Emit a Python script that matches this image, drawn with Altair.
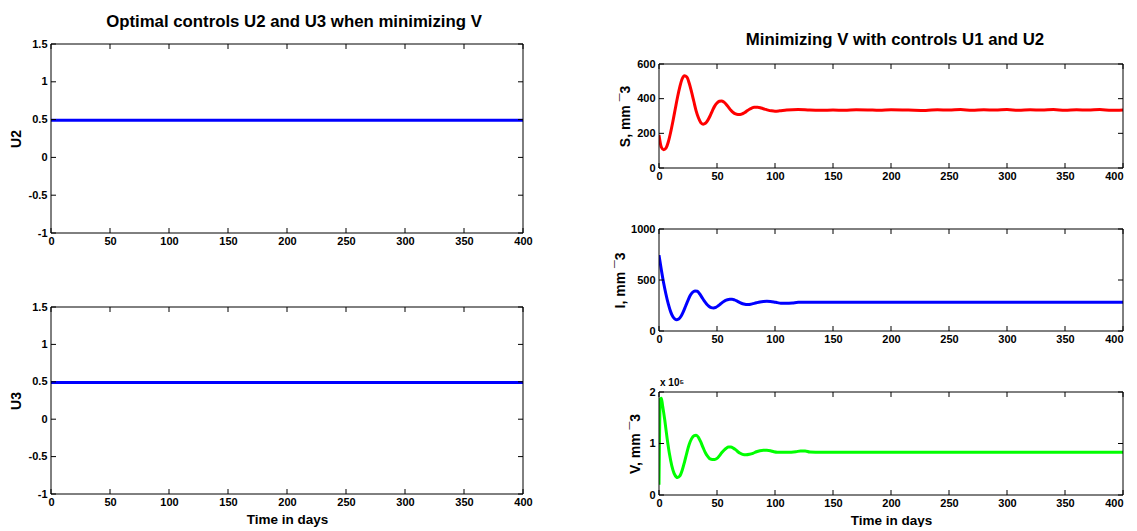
import altair as alt
import pandas as pd

FONT = "Liberation Sans"

# ---- tick values ----
x_ticks = [0, 50, 100, 150, 200, 250, 300, 350, 400]
u_ticks = [-1, -0.5, 0, 0.5, 1, 1.5]
s_ticks = [0, 200, 400, 600]
i_ticks = [0, 500, 1000]
v_ticks = [0, 1, 2]

# ---- controls ----
t_u = [0, 400]
u2 = [0.49, 0.49]
u3 = [0.49, 0.49]

# ---- S (mm^-3) ----
t_s = [0, 2, 4, 6, 8, 10, 12, 14, 16, 18, 20, 22, 24, 26, 28, 30, 32, 34, 36, 38,
       40, 42, 44, 46, 48, 50, 52, 54, 56, 58, 60, 62, 64, 66, 68, 70, 72, 74, 76,
       78, 80, 82, 85, 88, 91, 94, 97, 100, 104, 110, 120, 130, 140, 150, 160, 170,
       180, 190, 200, 210, 220, 230, 240, 250, 260, 270, 280, 290, 300, 310, 320,
       330, 340, 350, 360, 370, 380, 390, 400]
s_vals = [190, 120, 106, 115, 150, 205, 270, 340, 410, 470, 515, 532, 525, 490, 440,
          385, 330, 290, 262, 253, 258, 275, 300, 330, 357, 375, 385, 387, 380, 367,
          350, 333, 320, 312, 309, 309, 313, 320, 330, 339, 346, 350, 350, 346, 340,
          334, 330, 328, 330, 335, 337, 334, 333, 334, 333, 336, 335, 333, 336, 335,
          333, 332, 336, 334, 337, 333, 336, 334, 337, 333, 336, 334, 337, 333, 336,
          334, 337, 333, 335]

# ---- I (mm^-3) ----
t_i = [0, 2, 4, 6, 8, 10, 12, 14, 15, 17, 19, 21, 23, 25, 27, 29, 31, 33, 35, 37,
       39, 41, 43, 45, 47, 49, 51, 53, 55, 57, 59, 61, 63, 65, 67, 69, 71, 73, 75,
       77, 79, 81, 84, 87, 90, 93, 96, 99, 102, 105, 110, 115, 120, 140, 400]
i_vals = [744, 600, 470, 360, 265, 190, 140, 115, 111, 118, 145, 190, 245, 300, 350,
          380, 393, 390, 365, 330, 295, 265, 243, 230, 226, 232, 247, 265, 283, 298,
          307, 311, 311, 305, 295, 283, 272, 264, 260, 259, 262, 268, 277, 285, 290,
          292, 290, 285, 278, 272, 272, 275, 281, 282, 282]

# ---- V (x 10^5 mm^-3) ----
t_v = [0, 0.5, 1, 2, 3, 5, 7, 9, 11, 13, 15, 16, 18, 20, 22, 24, 26, 28, 30, 32, 34,
       36, 38, 40, 42, 44, 46, 48, 50, 52, 54, 56, 58, 60, 62, 64, 66, 68, 70, 72, 75,
       78, 81, 84, 87, 90, 93, 96, 99, 102, 110, 118, 122, 126, 130, 140, 400]
v_vals = [0.2, 1.2, 1.85, 1.88, 1.75, 1.45, 1.1, 0.8, 0.57, 0.42, 0.35, 0.34, 0.37,
          0.48, 0.64, 0.82, 0.98, 1.09, 1.15, 1.16, 1.12, 1.03, 0.92, 0.82, 0.75, 0.70,
          0.69, 0.69, 0.71, 0.76, 0.82, 0.87, 0.91, 0.93, 0.93, 0.91, 0.88, 0.84, 0.81,
          0.79, 0.78, 0.79, 0.81, 0.84, 0.86, 0.87, 0.87, 0.86, 0.84, 0.83, 0.83, 0.84,
          0.855, 0.855, 0.835, 0.83, 0.83]

TICK = 5
RULE = dict(color="black", strokeWidth=1)


def panel(t, y, color, ydom, yticks, W, H, ytitle, y_extent, y_titlepad,
          xtitle=None, title=None, band=0, flush_last=False,
          label_expr="'' + datum.value"):
    GH = H + band
    df = pd.DataFrame({"t": t, "y": y})
    xs = alt.Scale(domain=[0, 400], nice=False, zero=False)
    ys = alt.Scale(domain=ydom, nice=False, zero=False, range=[GH, band])
    xkw = dict(values=x_ticks, ticks=False, domain=False, grid=False,
               labelPadding=2, format="d", labelFlush=False,
               title=xtitle, titlePadding=5, titleFontSize=13.5)
    if flush_last:
        xkw["labelAlign"] = {"condition": {"test": "datum.value >= 400",
                                           "value": "right"},
                             "value": "center"}
    xaxis = alt.Axis(**xkw)
    ykw = dict(values=yticks, ticks=False, domain=False, grid=False,
               labelPadding=4, labelExpr=label_expr, labelFlush=False,
               title=ytitle, titlePadding=y_titlepad,
               minExtent=y_extent, maxExtent=y_extent)
    if band:
        ykw["titleY"] = band + H / 2
    yaxis = alt.Axis(**ykw)

    line = alt.Chart(df).mark_line(color=color, strokeWidth=3,
                                   interpolate="monotone", clip=True).encode(
        x=alt.X("t:Q", scale=xs, axis=xaxis),
        y=alt.Y("y:Q", scale=ys, axis=yaxis),
    )
    xt = pd.DataFrame({"t": x_ticks})
    yt = pd.DataFrame({"y": yticks})
    top = alt.Chart(xt).mark_rule(**RULE).encode(
        x=alt.X("t:Q", scale=xs, axis=xaxis),
        y=alt.value(band), y2=alt.value(band + TICK))
    bot = alt.Chart(xt).mark_rule(**RULE).encode(
        x=alt.X("t:Q", scale=xs, axis=xaxis),
        y=alt.value(GH - TICK), y2=alt.value(GH))
    lft = alt.Chart(yt).mark_rule(**RULE).encode(
        y=alt.Y("y:Q", scale=ys, axis=yaxis), x=alt.value(0), x2=alt.value(TICK))
    rgt = alt.Chart(yt).mark_rule(**RULE).encode(
        y=alt.Y("y:Q", scale=ys, axis=yaxis), x=alt.value(W - TICK), x2=alt.value(W))

    # box around the plot area
    fr = pd.DataFrame({"k": [0]})
    f_top = alt.Chart(fr).mark_rule(**RULE).encode(
        x=alt.value(0), x2=alt.value(W), y=alt.value(band))
    f_bot = alt.Chart(fr).mark_rule(**RULE).encode(
        x=alt.value(0), x2=alt.value(W), y=alt.value(GH))
    f_lft = alt.Chart(fr).mark_rule(**RULE).encode(
        x=alt.value(0), y=alt.value(band), y2=alt.value(GH))
    f_rgt = alt.Chart(fr).mark_rule(**RULE).encode(
        x=alt.value(W), y=alt.value(band), y2=alt.value(GH))

    props = dict(width=W, height=GH)
    if title is not None:
        props["title"] = title
    return alt.layer(line, top, bot, lft, rgt, f_top, f_bot, f_lft, f_rgt
                     ).properties(**props)


left_title = alt.TitleParams(text="Optimal controls U2 and U3 when minimizing V",
                             fontSize=16.8, font=FONT, fontWeight="bold",
                             anchor="middle", frame="group", dx=7, offset=7,
                             color="black")
right_title = alt.TitleParams(text="Minimizing V with controls U1 and U2",
                              fontSize=16.8, font=FONT, fontWeight="bold",
                              anchor="middle", frame="group", offset=7, dy=12,
                              dx=4, color="black")
v_title = alt.TitleParams(text="x 10\u2075", fontSize=10, font=FONT,
                          fontWeight="bold", anchor="start", frame="group",
                          offset=1, dx=1, dy=3, color="black")

pu2 = panel(t_u, u2, "#0000FF", [-1, 1.5], u_ticks, 472, 189, "U2", 24, 4,
            title=left_title)
pu3 = panel(t_u, u3, "#0000FF", [-1, 1.5], u_ticks, 472, 187, "U3", 24, 4,
            xtitle="Time in days")

RW = 464
ps = panel(t_s, s_vals, "#FF0000", [0, 600], s_ticks, RW, 104,
           "S, mm   \u00af3", 25, 2, title=right_title, band=20, flush_last=True)
pi = panel(t_i, i_vals, "#0000FF", [0, 1000], i_ticks, RW, 102,
           "I, mm   \u00af3", 30, 2, flush_last=True)
pv = panel(t_v, v_vals, "#00FF00", [0, 2], v_ticks, RW, 103,
           "V, mm   \u00af3", 15, 2, xtitle="Time in days", title=v_title,
           flush_last=True)

left_col = alt.vconcat(pu2, pu3, spacing=74, bounds="flush")
right_col = alt.vconcat(ps, pi, pv, spacing=61, bounds="flush")

chart = alt.hconcat(left_col, right_col, spacing=79).properties(
    padding={"left": 0, "top": 5, "right": 0, "bottom": 0}
).configure_view(
    stroke="transparent"
).configure_axis(
    labelFont=FONT, labelFontSize=11, labelFontWeight="bold", labelColor="black",
    titleFont=FONT, titleFontSize=14, titleFontWeight="bold", titleColor="black"
).configure_title(
    font=FONT, fontWeight="bold", color="black"
)

chart.save("out.html", embed_options={"renderer": "svg", "actions": False})
